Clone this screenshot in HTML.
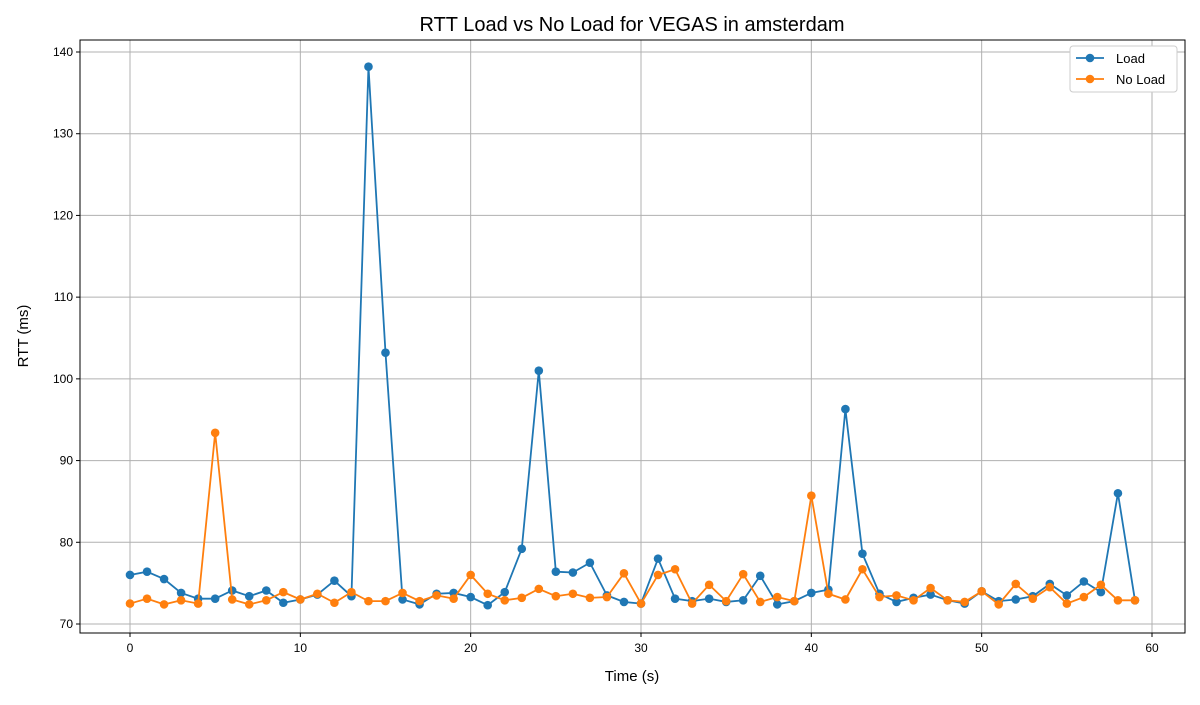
<!DOCTYPE html>
<html><head><meta charset="utf-8"><style>
body{margin:0;background:#fff;}
svg text{font-family:"Liberation Sans","DejaVu Sans",sans-serif;}
</style></head><body>
<svg id="chart" width="1200" height="700" xmlns="http://www.w3.org/2000/svg">
<rect width="1200" height="700" fill="#fff"/>
<g id="grid"></g><g id="series"></g><g id="axes"></g>
</svg>
<script>
const timeValues=[...Array(60).keys()];
const loadValues=[76.0,76.4,75.5,73.8,73.1,73.1,74.1,73.4,74.1,72.6,73.0,73.6,75.3,73.4,138.2,103.2,73.0,72.4,73.7,73.8,73.3,72.3,73.9,79.2,101.0,76.4,76.3,77.5,73.5,72.7,72.5,78.0,73.1,72.8,73.1,72.7,72.9,75.9,72.4,72.8,73.8,74.2,96.3,78.6,73.7,72.7,73.2,73.6,72.9,72.5,74.0,72.8,73.0,73.4,74.9,73.5,75.2,73.9,86.0,72.9];
const noLoadValues=[72.5,73.1,72.4,72.9,72.5,93.4,73.0,72.4,72.9,73.9,73.0,73.7,72.6,73.9,72.8,72.8,73.8,72.8,73.5,73.1,76.0,73.7,72.9,73.2,74.3,73.4,73.7,73.2,73.3,76.2,72.5,76.0,76.7,72.5,74.8,72.8,76.1,72.7,73.3,72.8,85.7,73.7,73.0,76.7,73.3,73.5,72.9,74.4,72.9,72.7,74.0,72.4,74.9,73.1,74.5,72.5,73.3,74.8,72.9,72.9];
const xTicks=[0,10,20,30,40,50,60];
const yTicks=[70,80,90,100,110,120,130,140];
const L=80,R=1185,T=40,B=633;
const xs=v=>130+v*(1152-130)/60;
const ys=v=>624-(v-70)*(624-52)/70;
const NS="http://www.w3.org/2000/svg";
function mk(tag,attrs,parent,txt){const e=document.createElementNS(NS,tag);for(const k in attrs)e.setAttribute(k,attrs[k]);if(txt!==undefined)e.textContent=txt;parent.appendChild(e);return e;}
const grid=document.getElementById('grid'),ser=document.getElementById('series'),ax=document.getElementById('axes');
xTicks.forEach(t=>{const x=xs(t);
 const g=mk('line',{x1:x,x2:x,y1:T,y2:B,stroke:'#b0b0b0','stroke-width':1},grid);
 
 
 mk('line',{x1:x,x2:x,y1:B,y2:B+4,stroke:'#000'},ax);
 const lb=mk('text',{x:x,y:B+19,'font-size':12,'text-anchor':'middle'},ax,t);
 
 
});
yTicks.forEach(t=>{const y=ys(t);
 const g=mk('line',{x1:L,x2:R,y1:y,y2:y,stroke:'#b0b0b0','stroke-width':1},grid);
 
 
 mk('line',{x1:L-4,x2:L,y1:y,y2:y,stroke:'#000'},ax);
 const lb=mk('text',{x:L-7,y:y+4,'font-size':12,'text-anchor':'end'},ax,t);
 
 
});
function series(vals,color,name){
 const p=mk('polyline',{points:vals.map((v,i)=>xs(timeValues[i])+','+ys(v)).join(' '),fill:'none',stroke:color,'stroke-width':1.8},ser);
 
 
 vals.forEach((v,i)=>{const c=mk('circle',{cx:xs(timeValues[i]),cy:ys(v),r:4.3,fill:color},ser);
  
  });
}
series(loadValues,'#1f77b4','load');
series(noLoadValues,'#ff7f0e','no-load');
const fr=mk('rect',{x:L,y:T,width:R-L,height:B-T,fill:'none',stroke:'#000','stroke-width':1},ax);


const ti=mk('text',{x:632,y:31,'font-size':20,'text-anchor':'middle'},ax,'RTT Load vs No Load for VEGAS in amsterdam');


const xt=mk('text',{x:632,y:681,'font-size':15,'text-anchor':'middle'},ax,'Time (s)');


const yt=mk('text',{x:28,y:336,'font-size':15,'text-anchor':'middle',transform:'rotate(-90 28 336)'},ax,'RTT (ms)');


const lg=mk('g',{},ax);


mk('rect',{x:1070,y:46,width:107,height:46,fill:'#fff',stroke:'#ccc',rx:3},lg);
[['Load','#1f77b4',58],['No Load','#ff7f0e',79]].forEach(([n,c,y])=>{
 const e=mk('g',{},lg);
 
 
 mk('line',{x1:1076,x2:1104,y1:y,y2:y,stroke:c,'stroke-width':1.8},e);
 mk('circle',{cx:1090,cy:y,r:4.3,fill:c},e);
 mk('text',{x:1116,y:y+5,'font-size':13},e,n);
});
</script>
</body></html>
